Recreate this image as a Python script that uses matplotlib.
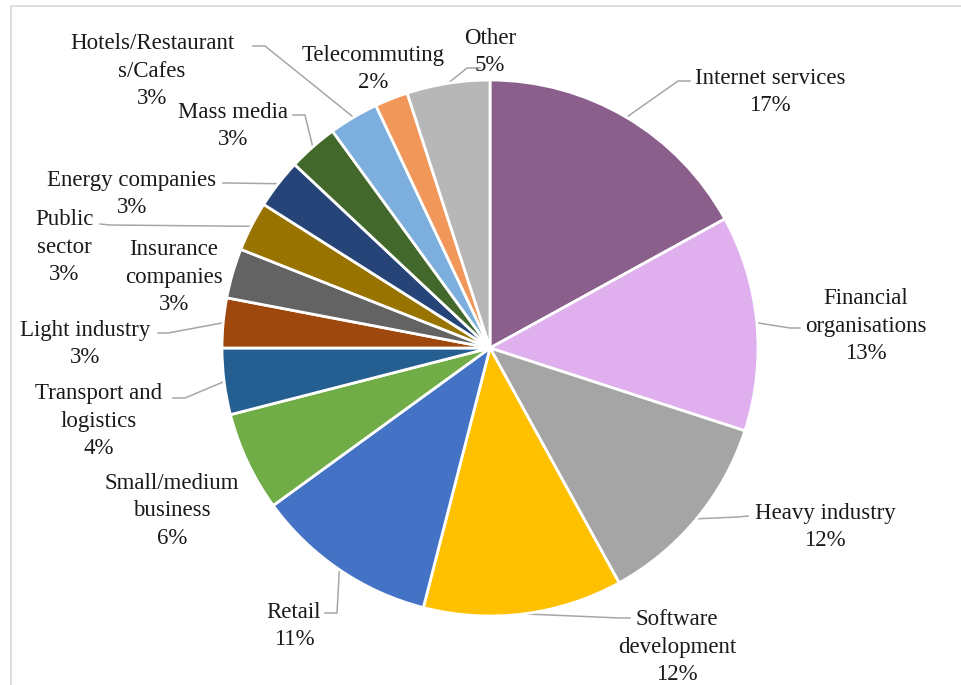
import numpy as np
import matplotlib
matplotlib.use("Agg")
import matplotlib.pyplot as plt
from matplotlib.lines import Line2D

sectors = ["Internet services", "Financial\norganisations", "Heavy industry",
           "Software\ndevelopment", "Retail", "Small/medium\nbusiness",
           "Transport and\nlogistics", "Light industry", "Insurance\ncompanies",
           "Public\nsector", "Energy companies", "Mass media",
           "Hotels/Restaurant\ns/Cafes", "Telecommuting", "Other"]
shares = [17, 13, 12, 12, 11, 6, 4, 3, 3, 3, 3, 3, 3, 2, 5]
colors = ["#8A5F8C", "#DFAFEE", "#A5A5A5", "#FFC000", "#4472C4", "#70AD47",
          "#255E91", "#9E480E", "#636363", "#997300", "#264478", "#43682B",
          "#7CAFDD", "#F1975A", "#B7B7B7"]

# layout (pixel coords, y from top): label centre, leader knee, leader end
label_xy = [(770, 89), (866, 323), (825, 524), (677, 644), (294, 623),
            (172, 508), (99, 418), (85, 341), (174, 274), (64, 244),
            (132, 191), (233, 123), (152, 68), (373, 66), (490, 49)]
leader = [((678, 81), (690, 81)), ((790, 328), (800, 328)),
          ((738, 517), (748, 516)), ((620, 618), (630, 618)),
          ((337, 613), (325, 613)), None,
          ((185, 398), (173, 398)), ((168, 333), (158, 333)), None,
          ((110, 225), (100, 224)), ((230, 183), (223, 183)),
          ((305, 115), (293, 115)), ((265, 46), (253, 46)), None,
          ((467, 68), (480, 68))]

W, H = 961, 685
cx, cy, R = 490, 348, 268

plt.rcParams['font.family'] = ['Liberation Serif', 'DejaVu Serif']

fig = plt.figure(figsize=(W / 100, H / 100), dpi=100)
ax = fig.add_axes([0, 0, 1, 1])

wedges, _ = ax.pie(shares, colors=colors, startangle=90, counterclock=False,
                   center=(cx, H - cy), radius=R, frame=True,
                   wedgeprops=dict(edgecolor="white", linewidth=2))
ax.set_xlim(0, W)
ax.set_ylim(0, H)
ax.axis("off")

total = sum(shares)
cum = 0
for name, v, pos, ld in zip(sectors, shares, label_xy, leader):
    mid = (cum + v / 2) / total * 2 * np.pi
    cum += v
    ax.text(pos[0], H - pos[1] - 3, f"{name}\n{v}%", ha="center", va="center",
            fontsize=16.5, color="#1a1a1a", linespacing=1.38)
    if ld is not None:
        sx = cx + R * np.sin(mid)
        sy = cy - R * np.cos(mid)
        xs = [sx, ld[0][0], ld[1][0]]
        ys = [H - sy, H - ld[0][1], H - ld[1][1]]
        ax.plot(xs, ys, color="#A6A6A6", lw=1.1, zorder=0.5)

# chart area border
fig.add_artist(Line2D([11 / W, 11 / W], [0, 1 - 6 / H], transform=fig.transFigure,
                      color="#D9D9D9", lw=1.2))
fig.add_artist(Line2D([11 / W, 1], [1 - 6 / H, 1 - 6 / H], transform=fig.transFigure,
                      color="#D9D9D9", lw=1.2))

fig.savefig("out.png", dpi=100)
